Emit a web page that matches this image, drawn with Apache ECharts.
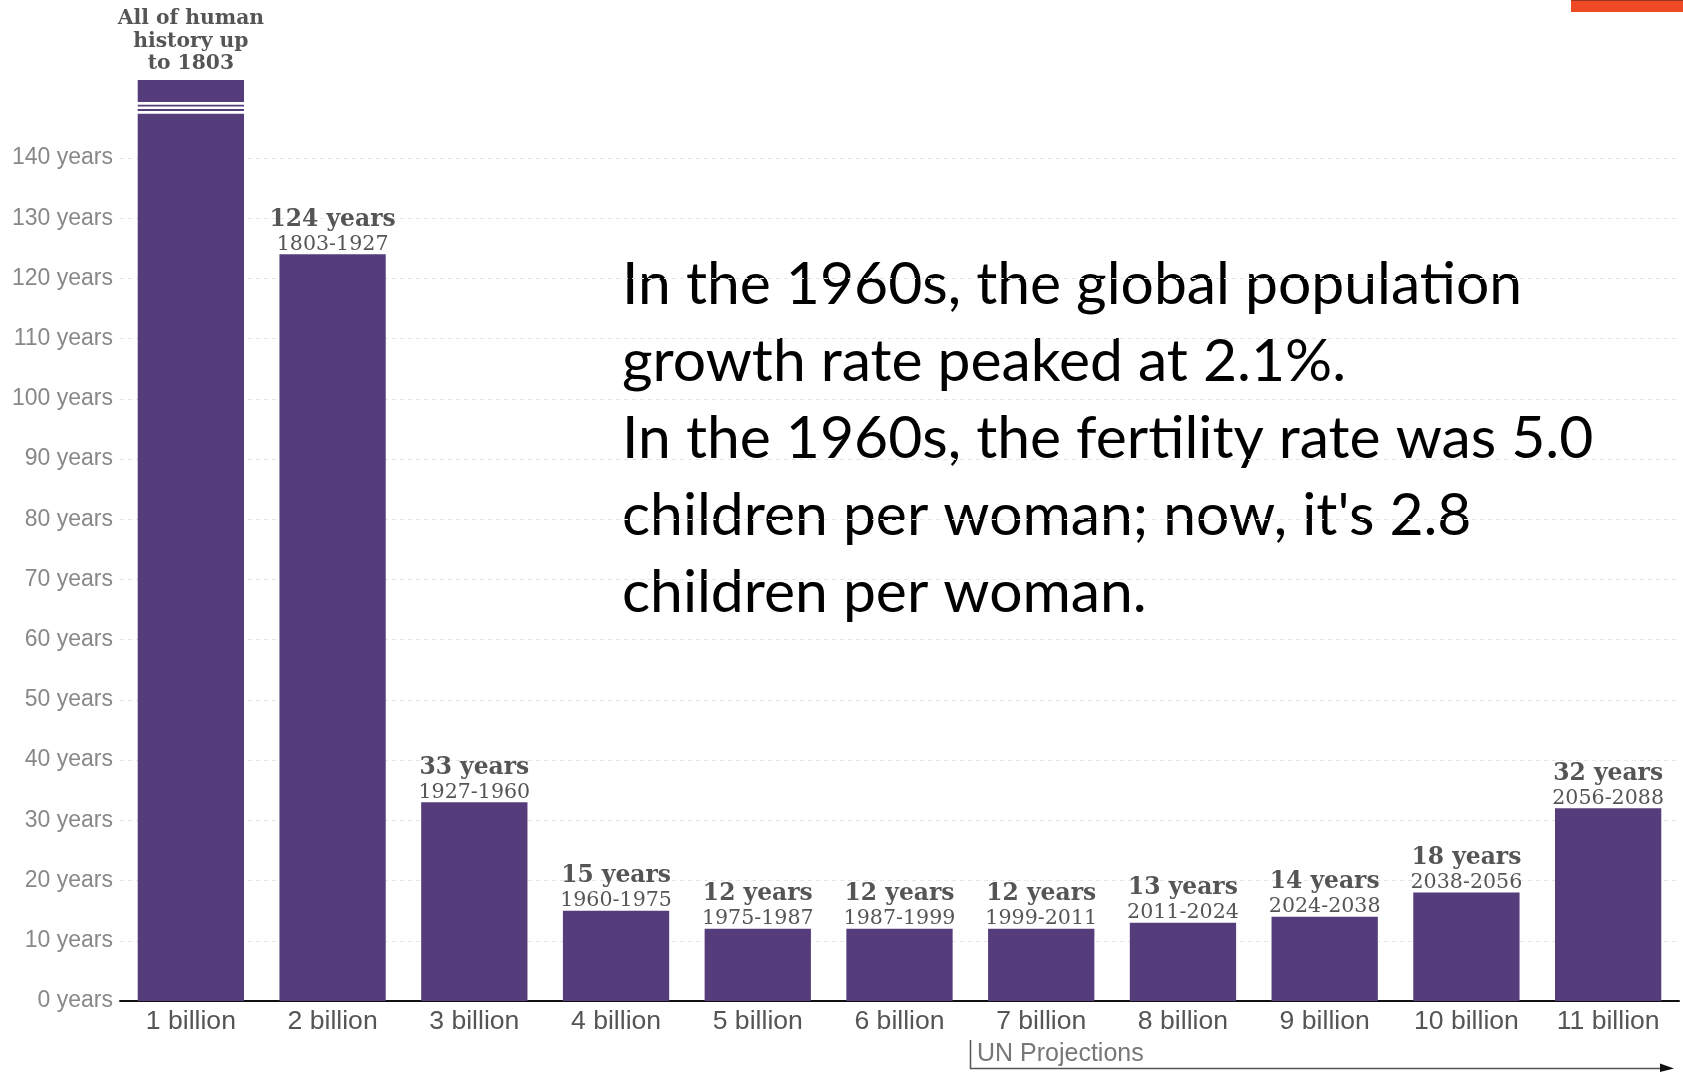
<!DOCTYPE html>
<html>
<head>
<meta charset="utf-8">
<script src="https://cdn.jsdelivr.net/npm/echarts@6/dist/echarts.min.js"></script>
<style>
  html, body { margin: 0; padding: 0; background: #fff; }
  #chart { width: 1683px; height: 1072px; }
</style>
</head>
<body>
<div id="chart"></div>
<script>
// ---- data ----
const categories = ['1 billion', '2 billion', '3 billion', '4 billion', '5 billion', '6 billion',
  '7 billion', '8 billion', '9 billion', '10 billion', '11 billion'];
const years = [153, 124, 33, 15, 12, 12, 12, 13, 14, 18, 32];
const periods = ['', '1803-1927', '1927-1960', '1960-1975', '1975-1987', '1987-1999',
  '1999-2011', '2011-2024', '2024-2038', '2038-2056', '2056-2088'];
const firstBarTitle = ['All of human', 'history up', 'to 1803'];
// broken first bar: stacked segments (purple / white break / ...)
const firstBarSegments = [147.4, 0.4, 0.35, 0.4, 0.35, 0.4, 3.65];
const yTicks = [0, 10, 20, 30, 40, 50, 60, 70, 80, 90, 100, 110, 120, 130, 140];
const noteLines = [
  'In the 1960s, the global population',
  'growth rate peaked at 2.1%.',
  'In the 1960s, the fertility rate was 5.0',
  "children per woman; now, it's 2.8",
  'children per woman.'
];
const projectionLabel = 'UN Projections';

// ---- chart ----
const PURPLE = '#553c7b';
const chart = echarts.init(document.getElementById('chart'), null, { renderer: 'canvas' });

const mainData = years.map((v, i) => (i === 0 ? firstBarSegments[0] : v));
const series = [{
  type: 'bar',
  stack: 'a',
  barWidth: '75%',
  data: mainData,
  itemStyle: { color: PURPLE },
  label: {
    show: true,
    position: 'top',
    distance: 1,
    formatter: p => p.dataIndex === 0 ? '' :
      '{b|' + years[p.dataIndex] + ' years}\n{d|' + periods[p.dataIndex] + '}',
    rich: {
      b: { fontFamily: 'DejaVu Serif', fontWeight: 'bold', fontSize: 23.4, color: '#555', lineHeight: 31 },
      d: { fontFamily: 'DejaVu Serif', fontSize: 20.6, color: '#555', lineHeight: 18 }
    }
  }
}];
for (let k = 1; k < firstBarSegments.length; k++) {
  const last = k === firstBarSegments.length - 1;
  series.push({
    type: 'bar',
    stack: 'a',
    barWidth: '75%',
    data: categories.map((c, i) => (i === 0 ? firstBarSegments[k] : '-')),
    itemStyle: { color: k % 2 === 1 ? '#ffffff' : PURPLE },
    label: last ? {
      show: true,
      position: 'top',
      distance: 5,
      formatter: () => firstBarTitle.map(t => '{t|' + t + '}').join('\n'),
      rich: {
        t: { fontFamily: 'DejaVu Serif', fontWeight: 'bold', fontSize: 20.3, color: '#555', lineHeight: 22.5 }
      }
    } : { show: false }
  });
}

const splitColors = [];
for (let v = 0; v <= 160; v += 10) splitColors.push(yTicks.indexOf(v) >= 0 ? '#e6e6e6' : 'rgba(0,0,0,0)');

chart.setOption({
  animation: false,
  backgroundColor: '#ffffff',
  grid: { left: 120, right: 4, top: 37.6, bottom: 71, containLabel: false },
  xAxis: {
    type: 'category',
    data: categories,
    axisLine: { lineStyle: { color: '#111', width: 2 } },
    axisTick: { show: false },
    axisLabel: { interval: 0, fontFamily: 'Liberation Sans', fontSize: 26.6, color: '#555', margin: 7 }
  },
  yAxis: {
    type: 'value',
    min: 0, max: 160, interval: 10,
    axisLine: { show: false },
    axisTick: { show: false },
    axisLabel: {
      fontFamily: 'Liberation Sans', fontSize: 23, color: '#888', margin: 7,
      formatter: v => (yTicks.indexOf(v) >= 0 ? v + ' years' : '')
    },
    splitLine: { show: true, lineStyle: { color: splitColors, type: [4, 4], width: 1 } }
  },
  series: series,
  graphic: [
    { type: 'rect', shape: { x: 1571, y: 0, width: 112, height: 12 }, style: { fill: '#ee4b24' }, silent: true },
    { type: 'rect', shape: { x: 1571, y: 0, width: 112, height: 1 }, style: { fill: '#9a3520' }, silent: true },
    {
      type: 'text', left: 622, top: 247, silent: true,
      style: { text: noteLines.join('\n'), font: '58.8px Lato', fill: '#000', lineHeight: 77 }
    },
    {
      type: 'polyline', silent: true,
      shape: { points: [[970.5, 1040], [970.5, 1068.5], [1664, 1068.5]] },
      style: { stroke: '#555', lineWidth: 1.5, fill: null }
    },
    {
      type: 'polygon', silent: true,
      shape: { points: [[1660, 1063.5], [1674, 1068.5], [1660, 1072]] },
      style: { fill: '#111' }
    },
    {
      type: 'text', left: 977, top: 1042, silent: true,
      style: { text: projectionLabel, font: '25px "Liberation Sans"', fill: '#777' }
    }
  ]
});
</script>
</body>
</html>
